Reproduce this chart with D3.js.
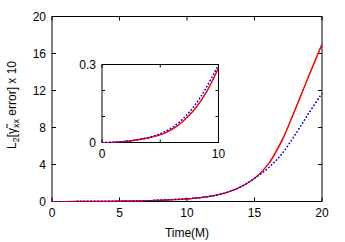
<!DOCTYPE html>
<html lang="en">
  <head>
    <meta charset="UTF-8" />
    <title>L2 error vs time</title>
    <script src="https://d3js.org/d3.v7.min.js"></script>
    <style>
      body {
        margin: 0;
        background: #fff;
        font-family: "Liberation Sans", Arial, sans-serif;
      }
      text {
        font-size: 12px;
        fill: #000;
      }
    </style>
  </head>
  <body>
    <div id="chart"></div>
    <script>
      // data
      const times = [0, 1, 2, 3, 4, 5, 6, 7, 8, 9, 10, 11, 12, 13, 14, 15, 16, 17, 18, 19, 20];
      const redErr = [0, 0.001, 0.004, 0.01, 0.018, 0.03, 0.05, 0.083, 0.13, 0.197, 0.287,
        0.42, 0.64, 1.0, 1.6, 2.5, 4.0, 6.5, 9.9, 13.5, 17.0];
      const blueErr = [0, 0.001, 0.004, 0.011, 0.02, 0.034, 0.057, 0.093, 0.145, 0.215, 0.3,
        0.43, 0.65, 1.0, 1.6, 2.5, 3.6, 5.1, 7.2, 9.5, 11.7];
      const xTicks = [0, 5, 10, 15, 20];
      const yTicks = [0, 4, 8, 12, 16, 20];
      const insetXTicks = [0, 5, 10];
      const insetYTicks = [0, 0.1, 0.2, 0.3];

      const W = 345, H = 242;
      const svg = d3.select("#chart").append("svg")
        .attr("width", W).attr("height", H);

      const red = times.map((t, i) => ({ t, v: redErr[i] }));
      const blue = times.map((t, i) => ({ t, v: blueErr[i] }));

      // draws a framed panel with inward ticks on all four sides
      function panel(box, xDom, yDom, xt, yt, xLab, yLab, tickLen, clipId) {
        const x = d3.scaleLinear().domain(xDom).range([box.l, box.r]);
        const y = d3.scaleLinear().domain(yDom).range([box.b, box.t]);
        const g = svg.append("g");

        g.append("rect")
          .attr("x", box.l).attr("y", box.t)
          .attr("width", box.r - box.l).attr("height", box.b - box.t)
          .attr("fill", "#fff");

        svg.append("clipPath").attr("id", clipId).append("rect")
          .attr("x", box.l).attr("y", box.t - 2)
          .attr("width", box.r - box.l).attr("height", box.b - box.t + 4);

        const line = d3.line().x(d => x(d.t)).y(d => y(d.v))
          .curve(d3.curveCatmullRom.alpha(0.5));
        const inDom = d => d.t >= xDom[0] && d.t <= xDom[1];

        const lines = g.append("g").attr("clip-path", `url(#${clipId})`);
        lines.append("path").datum(red.filter(inDom))
          .attr("d", line).attr("fill", "none")
          .attr("stroke", "#ff0000").attr("stroke-width", 1.2);
        lines.append("path").datum(blue.filter(inDom))
          .attr("d", line).attr("fill", "none")
          .attr("stroke", "#0000ff").attr("stroke-width", 1.2)
          .attr("stroke-dasharray", "1.5,2");

        const ticks = g.append("g").attr("stroke", "#000").attr("stroke-width", 1);
        xt.forEach(v => {
          ticks.append("line").attr("x1", x(v)).attr("x2", x(v))
            .attr("y1", box.b).attr("y2", box.b - tickLen);
          ticks.append("line").attr("x1", x(v)).attr("x2", x(v))
            .attr("y1", box.t).attr("y2", box.t + tickLen);
        });
        yt.forEach(v => {
          ticks.append("line").attr("x1", box.l).attr("x2", box.l + tickLen)
            .attr("y1", y(v)).attr("y2", y(v));
          ticks.append("line").attr("x1", box.r).attr("x2", box.r - tickLen)
            .attr("y1", y(v)).attr("y2", y(v));
        });

        g.append("rect")
          .attr("x", box.l).attr("y", box.t)
          .attr("width", box.r - box.l).attr("height", box.b - box.t)
          .attr("fill", "none").attr("stroke", "#000").attr("stroke-width", 1);

        // redraw the series on top of the frame so they show along the bottom edge
        const front = g.append("g").attr("clip-path", `url(#${clipId})`);
        front.append("path").datum(red.filter(inDom))
          .attr("d", line).attr("fill", "none")
          .attr("stroke", "#ff0000").attr("stroke-width", 1.2);
        front.append("path").datum(blue.filter(inDom))
          .attr("d", line).attr("fill", "none")
          .attr("stroke", "#0000ff").attr("stroke-width", 1.2)
          .attr("stroke-dasharray", "1.5,2");

        xLab.forEach(v => {
          g.append("text").attr("x", x(v)).attr("y", box.b + 15)
            .attr("text-anchor", "middle").text(v);
        });
        yLab.forEach(v => {
          g.append("text").attr("x", box.l - 6).attr("y", y(v) + 4)
            .attr("text-anchor", "end").text(v);
        });
        return { x, y };
      }

      // main panel
      panel({ l: 52, r: 322, t: 16.5, b: 201.5 }, [0, 20], [0, 20],
        xTicks, yTicks, xTicks, yTicks, 4, "clipMain");

      // inset panel
      panel({ l: 102, r: 218.5, t: 64.5, b: 142.5 }, [0, 10], [0, 0.3],
        insetXTicks, insetYTicks, [0, 10], [0, 0.3], 3, "clipInset");

      // axis titles
      svg.append("text").attr("x", 187).attr("y", 237)
        .attr("text-anchor", "middle").text("Time(M)");

      const yl = svg.append("text")
        .attr("transform", "translate(16,105) rotate(-90)")
        .attr("text-anchor", "middle");
      yl.append("tspan").text("L");
      yl.append("tspan").attr("font-size", "9px").attr("dy", 3).text("2");
      yl.append("tspan").attr("dy", -3).text("[\u03B3\u0303");
      yl.append("tspan").attr("font-size", "9px").attr("dy", 3).text("xx");
      yl.append("tspan").attr("dy", -3).text(" error] x 10");
    </script>
  </body>
</html>
